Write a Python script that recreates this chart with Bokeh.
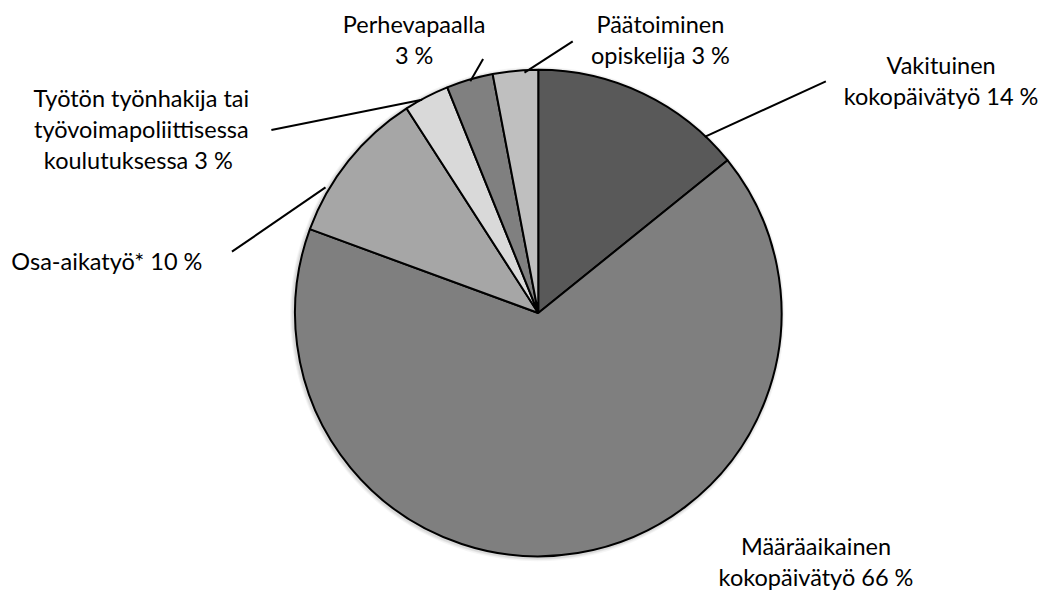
import math
from bokeh.plotting import figure
from bokeh.models import Range1d
from bokeh.core.properties import value
from bokeh.embed import file_html
from bokeh.resources import INLINE

# ---- data (clockwise from 12 o'clock) ----
categories = ["Vakituinen\nkokopäivätyö", "Määräaikainen\nkokopäivätyö", "Osa-aikatyö*",
              "Työtön työnhakija tai\ntyövoimapoliittisessa\nkoulutuksessa ", "Perhevapaalla\n",
              "Päätoiminen\nopiskelija"]
shares = [14.2, 66.4, 10.3, 3.0, 3.1, 3.0]
colors = ["#595959", "#7f7f7f", "#a6a6a6", "#d9d9d9", "#808080", "#bfbfbf"]

# ---- layout (reference pixel coordinates, y measured from top) ----
W, H = 1043, 590
CX, CY, R = 546, 321, 247
label_pos = [(955, 66), (828, 560), (108, 268), (143, 100), (420, 24), (670, 24)]
line_h = 32
leaders = [((838, 83), (715, 140)), None, ((235, 258), (330, 192)),
           ((275, 133), (428, 102)), ((490, 60), (477, 83)), ((581, 42), (532, 74))]

def Y(y):
    return 606 - y

p = figure(width=W, height=H, output_backend="svg", toolbar_location=None,
           x_range=Range1d(0, 1059), y_range=Range1d(0, 606),
           min_border=0, outline_line_color=None)
p.axis.visible = False
p.grid.visible = False
p.background_fill_color = "white"
p.border_fill_color = "white"

# soft shadow
for k, a in [(4, 0.08), (3, 0.10), (2, 0.14)]:
    p.circle(x=[CX - 1], y=[Y(CY) - 1], radius=R + k, fill_color="#808080",
             fill_alpha=a, line_color=None)

total = sum(shares)
cum = 0.0
starts, ends = [], []
for v in shares:
    a0 = math.pi / 2 - 2 * math.pi * cum / total
    cum += v
    a1 = math.pi / 2 - 2 * math.pi * cum / total
    starts.append(a1)
    ends.append(a0)

p.wedge(x=[CX] * len(shares), y=[Y(CY)] * len(shares), radius=R,
        start_angle=starts, end_angle=ends, direction="anticlock",
        fill_color=colors, line_color="black", line_width=2)

for ld in leaders:
    if ld is None:
        continue
    (x0, y0), (x1, y1) = ld
    p.line(x=[x0, x1], y=[Y(y0), Y(y1)], line_color="black", line_width=2)

xs, ys, txt = [], [], []
for cat, v, (lx, ly) in zip(categories, shares, label_pos):
    pct = int(round(v))
    s = f"{cat} {pct} %" if not cat.endswith("\n") else f"{cat}{pct} %"
    lines = s.split("\n")
    for i, ln in enumerate(lines):
        xs.append(lx)
        ys.append(Y(ly + i * line_h))
        txt.append(ln)

p.text(x=xs, y=ys, text=txt, text_align="center", text_baseline="middle",
       text_font=value("Lato"), text_font_size="23.5px", text_color="black")

open("out.html", "w").write(file_html(p, INLINE))
